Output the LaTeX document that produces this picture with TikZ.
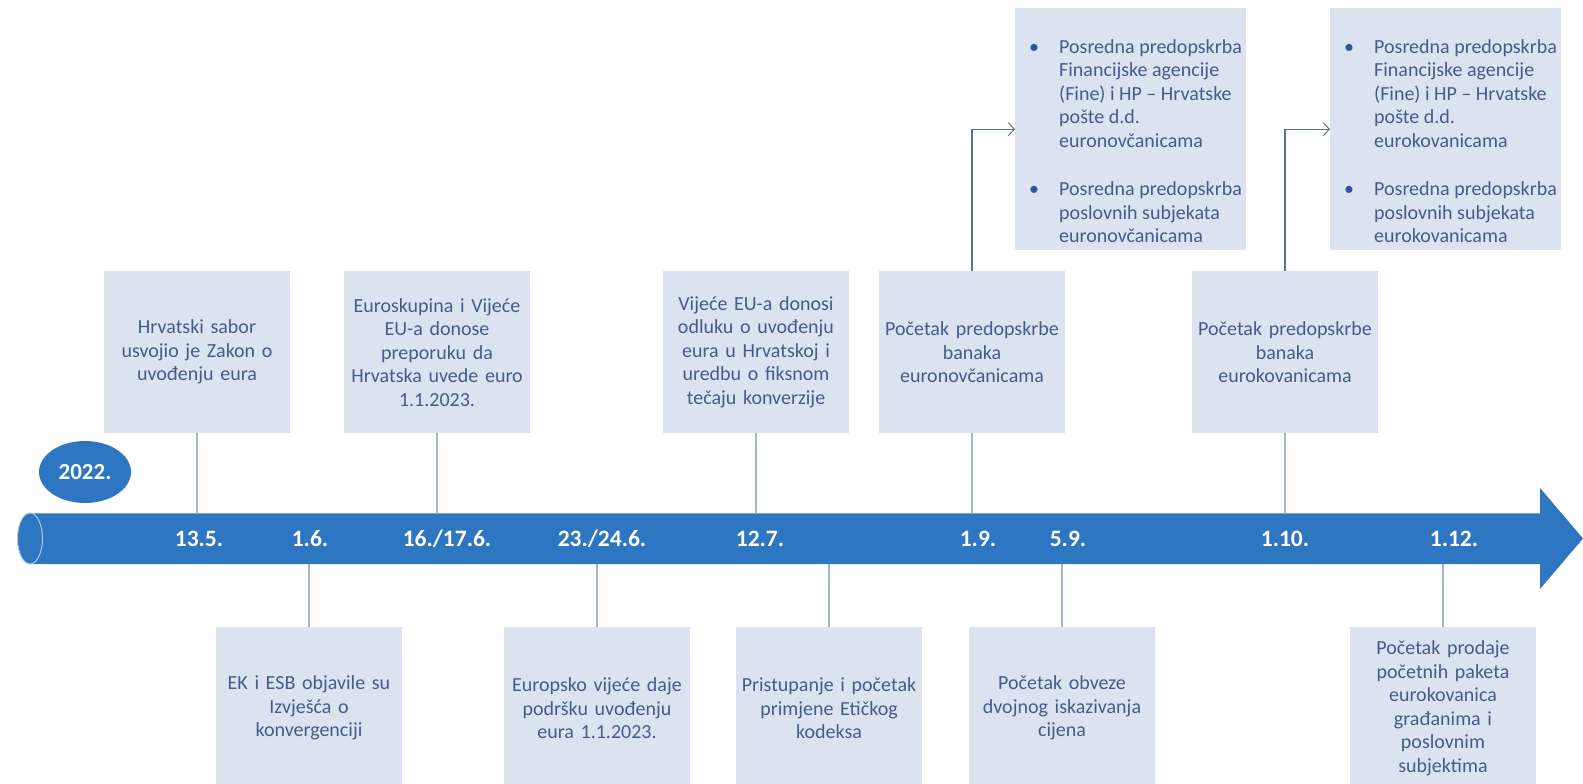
\documentclass[tikz,border=0pt]{standalone}
\usepackage{fontspec}
\setmainfont{Carlito}
\usetikzlibrary{arrows.meta,shapes.geometric}
\definecolor{barblue}{RGB}{46,117,194}
\definecolor{boxfill}{RGB}{219,227,240}
\definecolor{txt}{RGB}{70,92,135}
\definecolor{conn}{RGB}{165,183,205}
\definecolor{arr}{RGB}{90,115,148}
\definecolor{rim}{RGB}{170,200,235}
\definecolor{bulc}{RGB}{47,85,151}
\begin{document}
\begin{tikzpicture}[x=1pt,y=-1pt,
  evbox/.style={fill=boxfill, minimum width=186pt, minimum height=162pt, text width=184pt,
    align=center, inner sep=0pt, text=txt, font=\fontsize{20}{23.5}\selectfont, anchor=north},
  bulbox/.style={fill=boxfill, minimum width=231pt, minimum height=242pt, inner sep=0pt,
    text=txt, font=\fontsize{20}{23.5}\selectfont, anchor=north west},
  datelbl/.style={text=white, font=\bfseries\fontsize{23.5}{27}\selectfont, inner sep=0pt},
  stem/.style={draw=conn, line width=2pt},
  feed/.style={draw=arr, line width=1.2pt, -{Straight Barb[length=6pt,width=13pt,line width=1pt]}}
]
\useasboundingbox (0,0) rectangle (1583,784);

% timeline bar
\fill[barblue] (30,513) -- (1540,513) -- (1540,488) -- (1583,538.5) -- (1540,589) -- (1540,564) -- (30,564) -- cycle;
\draw[rim!60!barblue, line width=0.8pt] (30,513) -- (1540,513);
\filldraw[fill=barblue, draw=rim, line width=1pt] (30,538.5) ellipse [x radius=12.5pt, y radius=25.5pt];
\coordinate (barT) at (0,513);
\coordinate (barB) at (0,564);

% year
\node[ellipse, fill=barblue, minimum width=92pt, minimum height=62pt, inner sep=0pt,
      text=white, font=\bfseries\fontsize{23}{27}\selectfont] (yr) at (85,472) {2022.};

% dates
\node[datelbl] (d1) at (199,539) {13.5.};
\node[datelbl] (d2) at (310,539) {1.6.};
\node[datelbl] (d3) at (447,539) {16./17.6.};
\node[datelbl] (d4) at (602,539) {23./24.6.};
\node[datelbl] (d5) at (760,539) {12.7.};
\node[datelbl] (d6) at (978,539) {1.9.};
\node[datelbl] (d7) at (1068,539) {5.9.};
\node[datelbl] (d8) at (1285,539) {1.10.};
\node[datelbl] (d9) at (1454,539) {1.12.};

% top row boxes
\node[evbox] (t1) at (197,271) {Hrvatski sabor\\usvojio je Zakon o\\uvođenju eura};
\node[evbox] (t2) at (437,271) {Euroskupina i Vijeće\\EU-a donose\\preporuku da\\Hrvatska uvede euro\\1.1.2023.};
\node[evbox] (t3) at (756,271) {Vijeće EU-a donosi\\odluku o uvođenju\\eura u Hrvatskoj i\\uredbu o fiksnom\\tečaju konverzije};
\node[evbox] (t4) at (972,271) {Početak predopskrbe\\banaka\\euronovčanicama};
\node[evbox] (t5) at (1285,271) {Početak predopskrbe\\banaka\\eurokovanicama};

% bottom row boxes
\node[evbox] (b1) at (309,627) {EK i ESB objavile su\\Izvješća o\\konvergenciji};
\node[evbox] (b2) at (597,627) {Europsko vijeće daje\\podršku uvođenju\\eura 1.1.2023.};
\node[evbox] (b3) at (829,627) {Pristupanje i početak\\primjene Etičkog\\kodeksa};
\node[evbox] (b4) at (1062,627) {Početak obveze\\dvojnog iskazivanja\\cijena};
\node[evbox] (b5) at (1443,627) {Početak prodaje\\početnih paketa\\eurokovanica\\građanima i\\poslovnim\\subjektima};

% upper bullet boxes
\node[bulbox] (ua) at (1015,8) {%
\begin{tabular}{@{\hspace{14pt}}p{30pt}@{}p{187pt}@{}}
\multicolumn{2}{@{}l@{}}{}\\[4.5pt]
\textcolor{bulc}{\textbullet} & Posredna predopskrba\\
 & Financijske agencije\\
 & (Fine) i HP – Hrvatske\\
 & pošte d.d.\\
 & euronovčanicama\\[25pt]
\textcolor{bulc}{\textbullet} & Posredna predopskrba\\
 & poslovnih subjekata\\
 & euronovčanicama
\end{tabular}};
\node[bulbox] (ub) at (1330,8) {%
\begin{tabular}{@{\hspace{14pt}}p{30pt}@{}p{187pt}@{}}
\multicolumn{2}{@{}l@{}}{}\\[4.5pt]
\textcolor{bulc}{\textbullet} & Posredna predopskrba\\
 & Financijske agencije\\
 & (Fine) i HP – Hrvatske\\
 & pošte d.d.\\
 & eurokovanicama\\[25pt]
\textcolor{bulc}{\textbullet} & Posredna predopskrba\\
 & poslovnih subjekata\\
 & eurokovanicama
\end{tabular}};

% stems
\foreach \n in {t1,t2,t3,t4,t5}{\draw[stem] (\n.south) -- (\n.south |- barT);}
\foreach \n in {b1,b2,b3,b4,b5}{\draw[stem] (\n.north) -- (\n.north |- barB);}

% feed arrows
\draw[feed] (t4.north) |- (ua.west);
\draw[feed] (t5.north) |- (ub.west);
\end{tikzpicture}
\end{document}
